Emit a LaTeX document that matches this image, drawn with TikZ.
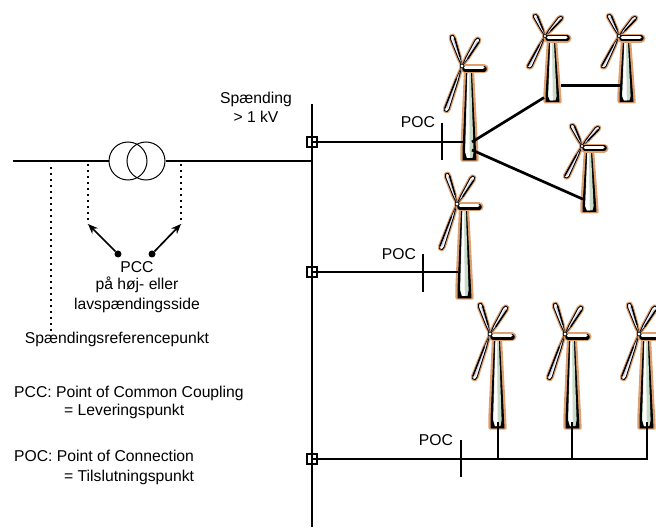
\documentclass[tikz,border=0pt]{standalone}
\usepackage{fontspec}
\setmainfont{Liberation Sans}
\usetikzlibrary{arrows.meta}
\definecolor{rimcolor}{RGB}{222,160,110}
\definecolor{towercolor}{RGB}{200,218,200}
\definecolor{bladecolor}{RGB}{205,205,235}

\begin{document}
\begin{tikzpicture}[x=1pt,y=-1pt]
        % Define styles
        \tikzset{
            wire/.style={line width=2.7pt},
            tick/.style={line width=2.8pt},
            probe/.style={line width=2.2pt, dash pattern=on 2.2pt off 3.8pt},
            arrow/.style={-{Stealth[length=10pt,width=8pt]}, line width=1.7pt},
            winding/.style={circle, draw, line width=1pt, minimum size=38pt, inner sep=0pt},
            joint/.style={rectangle, draw, line width=2pt, minimum size=10.5pt, inner sep=0pt},
            pointdot/.style={circle, fill, minimum size=7pt, inner sep=0pt},
            label/.style={font=\fontsize{15.7}{18}\selectfont, inner sep=0pt},
            leftlabel/.style={label, anchor=west},
            rim/.style={draw=rimcolor, line width=3.4pt, line join=round, line cap=round},
            skin/.style={draw=black, line width=0.9pt, line join=round},
            pics/turbine/.style={code={
                % tower
                \path[rim, fill=rimcolor] (3.5,7) -- (10.5,7) -- (14.5,84) -- (15,94) -- (0,94) -- (0,84) -- cycle;
                \path[skin, fill=black] (4.5,7) -- (9.5,7) -- (13.5,84) -- (14,94) -- (1,94) -- (1,84) -- cycle;
                \fill[towercolor] (5.3,7) -- (8.9,7) -- (11.6,86) -- (10.5,92) -- (5,92) -- (3,86) -- cycle;
                \fill[white] (5.6,7) -- (7,7) -- (7.8,92) -- (5,92) -- (3.6,86) -- cycle;
                % blades
                \foreach \ang/\len in {108/32, 58/32, 250/48} {
                    \begin{scope}[rotate=\ang]
                        \path[rim, fill=rimcolor] (0,0) -- (0.3*\len,-1.3) -- (\len-3,-2.6) -- (\len,-1.6) -- (\len,1) -- (\len-3,1.8) -- (0.3*\len,1) -- cycle;
                        \path[skin, fill=white] (0,0) -- (0.3*\len,-1.3) -- (\len-3,-2.6) -- (\len,-1.6) -- (\len,1) -- (\len-3,1.8) -- (0.3*\len,1) -- cycle;
                        \fill[bladecolor] (2,0) -- (\len-3,-0.6) -- (\len-3,0.6) -- (0.3*\len,0.6) -- cycle;
                        \draw[line width=1.4pt, line cap=round] (0.3*\len,1) -- (\len-3,1.6);
                    \end{scope}
                }
                % nacelle
                \path[rim, line width=9pt] (3,3) -- (22,3);
                \draw[line width=5.5pt, line cap=round] (3,3) -- (22,3);
                \draw[white, line width=3pt, line cap=round] (3,2) -- (21,2);
                \fill[white, draw=black, line width=0.8pt] (0,0) circle (2pt);
                % connection points
                \coordinate (-foot) at (8,88);
                \coordinate (-west) at (1,76);
                \coordinate (-fan) at (-1,88);
                \coordinate (-side) at (10,76);
                \coordinate (-low) at (10,84);
                \coordinate (-mid) at (16,71);
            }}
        }

        \useasboundingbox (0,0) rectangle (656,529);

        % Nodes
        \node[winding] (winding_lv) at (128,161) {};
        \node[winding] (winding_hv) at (146,161) {};
        \node[joint] (joint_1) at (312,142) {};
        \node[joint] (joint_2) at (312,272) {};
        \node[joint] (joint_3) at (312,459) {};
        \node[pointdot] (pcc_dot_lv) at (118,254) {};
        \node[pointdot] (pcc_dot_hv) at (152,254) {};

        \coordinate (line_start) at (13,161);
        \coordinate (line_end) at (312,161);
        \coordinate (bus_top) at (312,104);
        \coordinate (bus_bottom) at (312,527);

        \coordinate (ref_top) at (51,167);
        \coordinate (ref_bottom) at (51,331);
        \coordinate (pcc_top_lv) at (88,164);
        \coordinate (pcc_end_lv) at (88,224);
        \coordinate (pcc_top_hv) at (181,164);
        \coordinate (pcc_end_hv) at (181,224);

        \coordinate (poc_top_1) at (442,123);
        \coordinate (poc_bottom_1) at (442,160);
        \coordinate (poc_top_2) at (423,254);
        \coordinate (poc_bottom_2) at (423,292);
        \coordinate (poc_top_3) at (461,440);
        \coordinate (poc_bottom_3) at (461,477);
        \coordinate (string_end) at (648,459);
        \coordinate (tap_1) at (498,459);
        \coordinate (tap_2) at (572,459);
        \coordinate (tap_3) at (647,459);

        % Turbines
        \pic (turbine_5) at (457,204) {turbine};
        \pic (turbine_1) at (462,66) {turbine};
        \pic[yscale=0.7] (turbine_2) at (545,36) {turbine};
        \pic[yscale=0.7] (turbine_3) at (619,36) {turbine};
        \pic[yscale=0.7] (turbine_4) at (582,146) {turbine};
        \pic (turbine_6) at (490,334) {turbine};
        \pic (turbine_7) at (565,334) {turbine};
        \pic (turbine_8) at (639,334) {turbine};

        % Lines
        \draw[wire] (line_start) -- (winding_lv);
        \draw[wire] (winding_hv) -- (line_end);
        \draw[wire] (bus_top) -- (bus_bottom);
        \draw[wire] (joint_1.center) -- (joint_1.center -| turbine_1-west);
        \draw[wire] (joint_2.center) -- (joint_2.center -| turbine_5-west);
        \draw[wire] (joint_3.center) -- (string_end);
        \draw[wire] (turbine_1-side) -- (turbine_2-fan);
        \draw[wire] (turbine_1-low) -- (turbine_4-west);
        \draw[wire] (turbine_2-mid) -- (turbine_2-mid -| turbine_3-west);
        \draw[wire] (tap_1) -- (tap_1 |- turbine_6-foot);
        \draw[wire] (tap_2) -- (tap_2 |- turbine_7-foot);
        \draw[wire] (tap_3) -- (tap_3 |- turbine_8-foot);
        \draw[tick] (poc_top_1) -- (poc_bottom_1);
        \draw[tick] (poc_top_2) -- (poc_bottom_2);
        \draw[tick] (poc_top_3) -- (poc_bottom_3);

        % Arrows
        \draw[probe] (ref_top) -- (ref_bottom);
        \draw[probe] (pcc_top_lv) -- (pcc_end_lv);
        \draw[probe] (pcc_top_hv) -- (pcc_end_hv);
        \draw[arrow] (pcc_dot_lv) -- (pcc_end_lv);
        \draw[arrow] (pcc_dot_hv) -- (pcc_end_hv);

        % Labels
        \node[label] (voltage_label) at (256,99) {Spænding};
        \node[label] (voltage_value) at (256,117) {> 1 kV};
        \node[label] (poc_label_1) at (418,122) {POC};
        \node[label] (poc_label_2) at (399,254) {POC};
        \node[label] (poc_label_3) at (436,440) {POC};
        \node[label] (pcc_label) at (137,267) {PCC};
        \node[label] (pcc_text_1) at (137,285) {på høj- eller};
        \node[label] (pcc_text_2) at (137,305) {lavspændingsside};
        \node[label] (ref_label) at (117,339) {Spændingsreferencepunkt};
        \node[leftlabel] (pcc_def_1) at (14,393) {PCC: Point of Common Coupling};
        \node[leftlabel] (pcc_def_2) at (64,411) {= Leveringspunkt};
        \node[leftlabel] (poc_def_1) at (14,456) {POC: Point of Connection};
        \node[leftlabel] (poc_def_2) at (64,477) {= Tilslutningspunkt};
\end{tikzpicture}
\end{document}
